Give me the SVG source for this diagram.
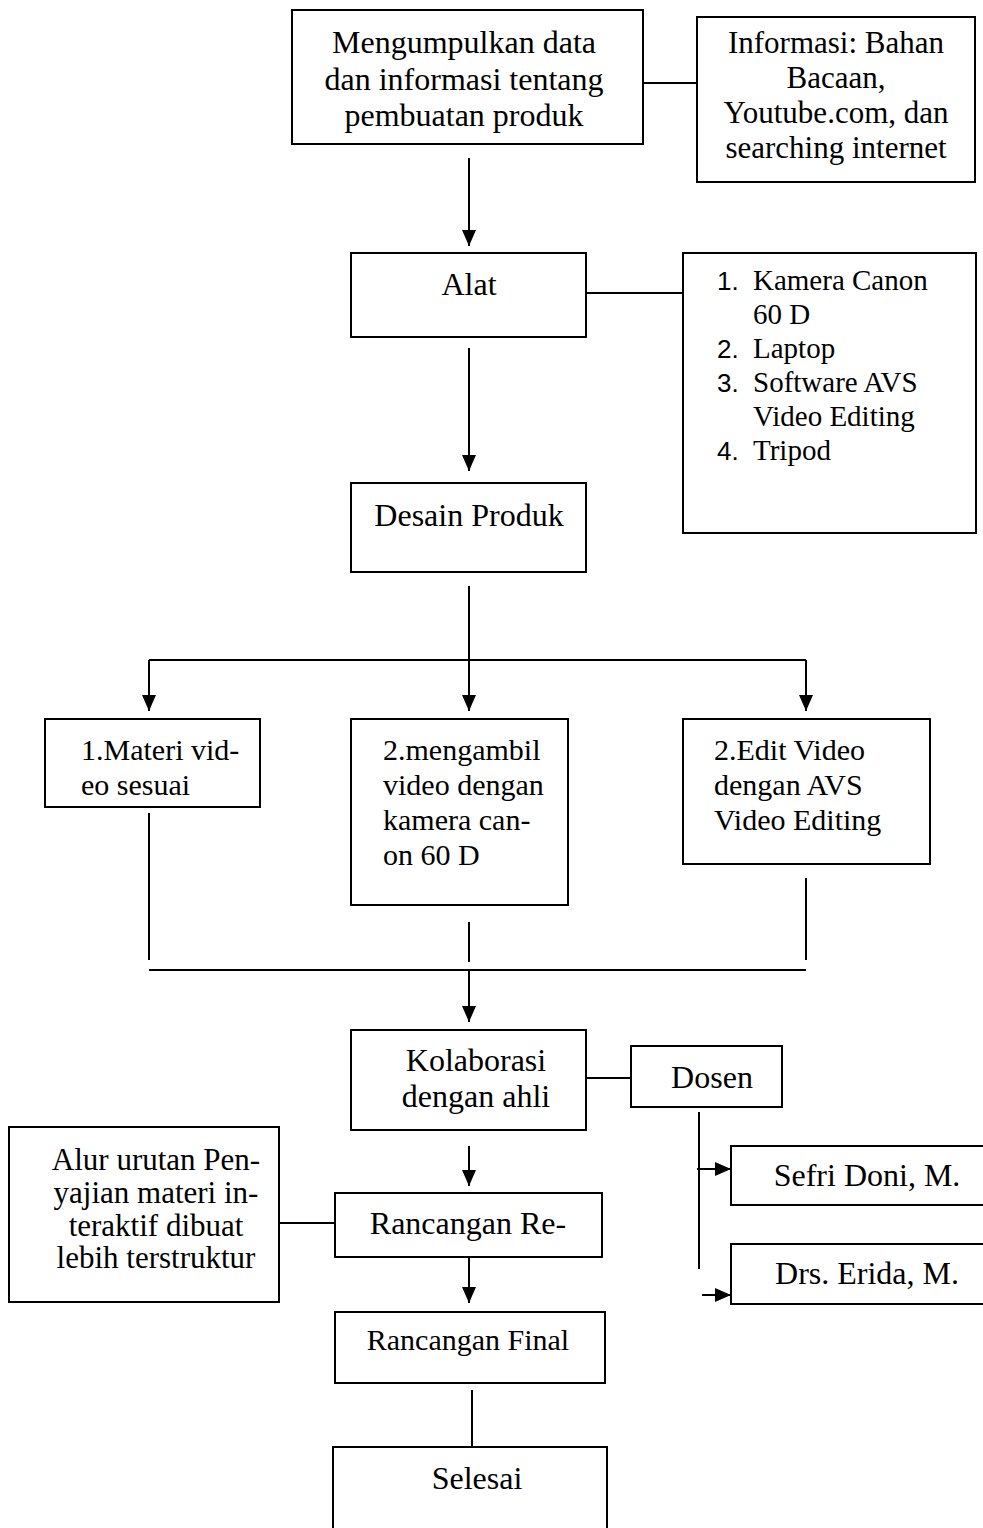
<svg xmlns="http://www.w3.org/2000/svg" width="983" height="1528" viewBox="0 0 983 1528">
<style>
.box{fill:#fff;stroke:#000;stroke-width:2}
.ln{stroke:#000;stroke-width:2;fill:none}
.ar{stroke:#000;stroke-width:2;fill:none;marker-end:url(#ah)}
text{font-family:"Liberation Serif","Times New Roman",serif;font-size:32px;fill:#000}
.c{text-anchor:middle}
.s29{font-size:29px}
.s30{font-size:30px}
.s31{font-size:31px}
.num{font-family:"Liberation Sans",Arial,sans-serif;font-size:26px}
</style>
<defs>
<marker id="ah" markerUnits="userSpaceOnUse" markerWidth="16" markerHeight="14" viewBox="0 0 16 14" refX="16" refY="7" orient="auto"><path d="M0,0 L16,7 L0,14 z" fill="#000"/></marker>
</defs>
<g id="connectors">
<line class="ln" x1="643" y1="83" x2="697" y2="83"/>
<line class="ar" x1="469" y1="158" x2="469" y2="246"/>
<line class="ln" x1="586" y1="293" x2="683" y2="293"/>
<line class="ar" x1="469" y1="348" x2="469" y2="471"/>
<line class="ln" x1="469" y1="586" x2="469" y2="660"/>
<line class="ln" x1="149" y1="660" x2="806" y2="660"/>
<line class="ar" x1="149" y1="660" x2="149" y2="711"/>
<line class="ar" x1="469" y1="660" x2="469" y2="711"/>
<line class="ar" x1="806" y1="660" x2="806" y2="711"/>
<line class="ln" x1="149" y1="813" x2="149" y2="960"/>
<line class="ln" x1="469" y1="922" x2="469" y2="962"/>
<line class="ln" x1="806" y1="878" x2="806" y2="960"/>
<line class="ln" x1="149" y1="970" x2="806" y2="970"/>
<line class="ar" x1="469" y1="970" x2="469" y2="1022"/>
<line class="ln" x1="586" y1="1078" x2="631" y2="1078"/>
<line class="ln" x1="699" y1="1112" x2="699" y2="1269"/>
<line class="ar" x1="697" y1="1169" x2="731" y2="1169"/>
<line class="ar" x1="702" y1="1295" x2="731" y2="1295"/>
<line class="ar" x1="469" y1="1146" x2="469" y2="1186"/>
<line class="ln" x1="279" y1="1223" x2="335" y2="1223"/>
<line class="ar" x1="469" y1="1257" x2="469" y2="1303"/>
<line class="ln" x1="472" y1="1390" x2="472" y2="1447"/>
</g>
<g id="n-kumpul">
<rect class="box" x="292" y="10" width="351" height="134"/>
<text class="c" x="464" y="53">Mengumpulkan data</text>
<text class="c" x="464" y="90">dan informasi tentang</text>
<text class="c" x="464" y="126">pembuatan produk</text>
</g>
<g id="n-info">
<rect class="box" x="697" y="17" width="278" height="165"/>
<text class="c s31" x="836" y="53">Informasi: Bahan</text>
<text class="c s31" x="836" y="88">Bacaan,</text>
<text class="c s31" x="836" y="123">Youtube.com, dan</text>
<text class="c s31" x="836" y="158">searching internet</text>
</g>
<g id="n-alat">
<rect class="box" x="351" y="253" width="235" height="84"/>
<text class="c" x="469" y="295">Alat</text>
</g>
<g id="n-list">
<rect class="box" x="683" y="253" width="293" height="280"/>
<text class="num" x="717" y="290">1.</text>
<text class="s29" x="753" y="290">Kamera Canon</text>
<text class="s29" x="753" y="324">60 D</text>
<text class="num" x="717" y="358">2.</text>
<text class="s29" x="753" y="358">Laptop</text>
<text class="num" x="717" y="392">3.</text>
<text class="s29" x="753" y="392">Software AVS</text>
<text class="s29" x="753" y="426">Video Editing</text>
<text class="num" x="717" y="460">4.</text>
<text class="s29" x="753" y="460">Tripod</text>
</g>
<g id="n-desain">
<rect class="box" x="351" y="483" width="235" height="89"/>
<text class="c" x="469" y="526">Desain Produk</text>
</g>
<g id="n-materi">
<rect class="box" x="45" y="719" width="215" height="88"/>
<text class="s30" x="81" y="760">1.Materi vid-</text>
<text class="s30" x="81" y="795">eo sesuai</text>
</g>
<g id="n-ambil">
<rect class="box" x="351" y="719" width="217" height="186"/>
<text class="s30" x="383" y="760">2.mengambil</text>
<text class="s30" x="383" y="795">video dengan</text>
<text class="s30" x="383" y="830">kamera can-</text>
<text class="s30" x="383" y="865">on 60 D</text>
</g>
<g id="n-edit">
<rect class="box" x="683" y="719" width="247" height="145"/>
<text class="s30" x="714" y="760">2.Edit Video</text>
<text class="s30" x="714" y="795">dengan AVS</text>
<text class="s30" x="714" y="830">Video Editing</text>
</g>
<g id="n-kolab">
<rect class="box" x="351" y="1030" width="235" height="100"/>
<text class="c" x="476" y="1071">Kolaborasi</text>
<text class="c" x="476" y="1107">dengan ahli</text>
</g>
<g id="n-dosen">
<rect class="box" x="631" y="1046" width="151" height="61"/>
<text class="c" x="712" y="1088">Dosen</text>
</g>
<g id="n-sefri">
<rect class="box" x="731" y="1146" width="260" height="59"/>
<text class="c" x="867" y="1186">Sefri Doni, M.</text>
</g>
<g id="n-erida">
<rect class="box" x="731" y="1244" width="260" height="60"/>
<text class="c" x="867" y="1284">Drs. Erida, M.</text>
</g>
<g id="n-alur">
<rect class="box" x="9" y="1127" width="270" height="175"/>
<text class="c s31" x="156" y="1170">Alur urutan Pen-</text>
<text class="c s31" x="156" y="1203">yajian materi in-</text>
<text class="c s31" x="156" y="1236">teraktif dibuat</text>
<text class="c s31" x="156" y="1268">lebih terstruktur</text>
</g>
<g id="n-re">
<rect class="box" x="335" y="1193" width="267" height="64"/>
<text class="c" x="468" y="1234">Rancangan Re-</text>
</g>
<g id="n-final">
<rect class="box" x="335" y="1312" width="270" height="71"/>
<text class="c s30" x="468" y="1350">Rancangan Final</text>
</g>
<g id="n-selesai">
<rect class="box" x="333" y="1447" width="274" height="90"/>
<text class="c" x="477" y="1489">Selesai</text>
</g>
</svg>
